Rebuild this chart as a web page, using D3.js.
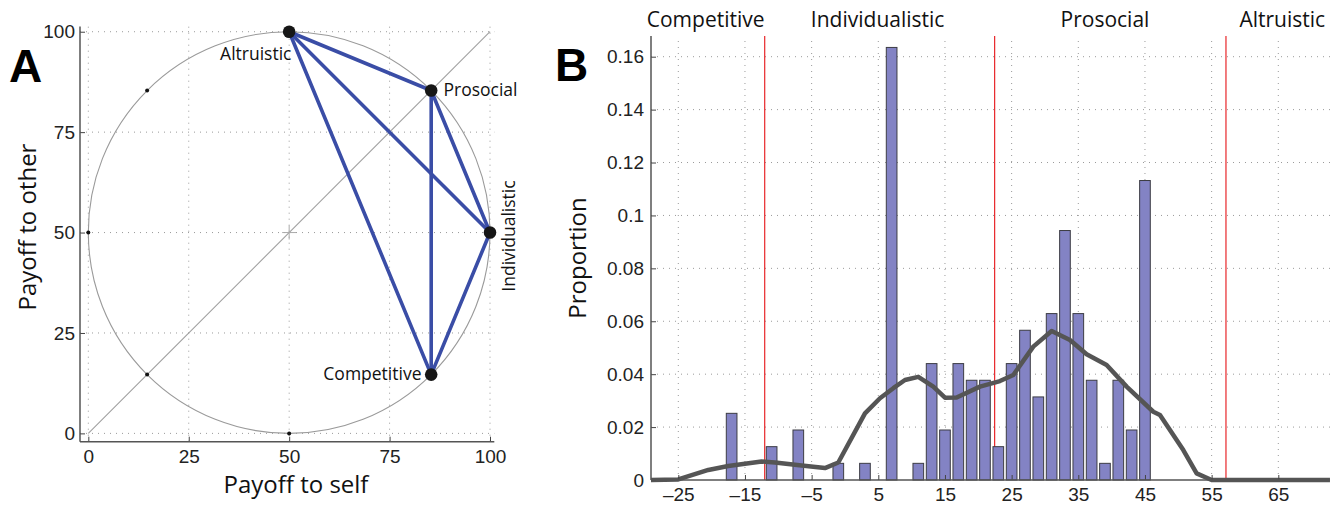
<!DOCTYPE html>
<html><head><meta charset="utf-8">
<script src="https://cdn.jsdelivr.net/npm/d3@7"></script>
<style>
html,body{margin:0;padding:0;background:#fff;}
svg{display:block;}
.lbl{font-family:"Open Sans",sans-serif;fill:#111;}
</style></head>
<body>
<svg id="c" width="1330" height="506"></svg>
<script>
// ---------- Panel A data ----------
const styleNames = ["Altruistic", "Prosocial", "Individualistic", "Competitive"];
const selfPayoff = [50, 85.36, 100, 85.36];
const otherPayoff = [100, 85.36, 50, 14.64];
const smallDotSelf = [0, 50, 14.64, 14.64];
const smallDotOther = [50, 0, 14.64, 85.36];
const ticksA = [0, 25, 50, 75, 100];

// ---------- Panel B data ----------
const binCenters = [-17, -11, -7, -1, 3, 7, 11, 13, 15, 17, 19, 21, 23, 25, 27, 29, 31, 33, 35, 37, 39, 41, 43, 45];
const proportions = [0.0252, 0.0126, 0.0189, 0.0063, 0.0063, 0.1635, 0.0063, 0.0440, 0.0189, 0.0440, 0.0377, 0.0377, 0.0126, 0.0440, 0.0566, 0.0314, 0.0629, 0.0943, 0.0629, 0.0377, 0.0063, 0.0377, 0.0189, 0.1132];
const densityX = [-29.1, -25, -20.5, -17.5, -12.5, -10.5, -6.5, -3, -1, 3, 5.25, 7.25, 9, 11, 13.25, 15, 16.75, 20.25, 23.25, 25.25, 28.25, 31, 33.75, 36.25, 39.25, 42.25, 46.25, 47.25, 50.75, 52.75, 55, 72.75];
const densityY = [0, 0.0002, 0.0038, 0.0053, 0.0070, 0.0066, 0.0055, 0.0045, 0.0066, 0.0252, 0.0309, 0.0347, 0.0378, 0.0390, 0.0353, 0.0311, 0.0312, 0.0353, 0.0374, 0.0397, 0.0504, 0.0563, 0.0529, 0.0475, 0.0435, 0.0353, 0.0258, 0.0246, 0.0113, 0.0025, 0, 0];
const boundaries = [-12.04, 22.45, 57.15];
const categoryNames = ["Competitive", "Individualistic", "Prosocial", "Altruistic"];
const categoryPos = [-20.9, 4.9, 39.0, 65.6];
const ticksBx = [-25, -15, -5, 5, 15, 25, 35, 45, 55, 65];
const ticksBy = [0, 0.02, 0.04, 0.06, 0.08, 0.1, 0.12, 0.14, 0.16];

const svg = d3.select("#c");
const TICKFONT = "'Liberation Sans', Arial, sans-serif";

function styleAxis(a) {
  a.attr("font-size", null).attr("font-family", null);
  a.select(".domain").remove();
  a.selectAll(".tick line").attr("stroke", "#444");
  a.selectAll(".tick text").style("font-family", TICKFONT).style("font-size", "19px").style("fill", "#222");
}

// ================= Panel A =================
const xA = d3.scaleLinear().domain([-2.07, 101.07]).range([80, 494.3]);
const yA = d3.scaleLinear().domain([-2.07, 101.3]).range([441.7, 26.5]);
const gA = svg.append("g");

gA.selectAll(".gvx").data(ticksA).join("line")
  .attr("x1", d => xA(d)).attr("x2", d => xA(d)).attr("y1", yA.range()[0]).attr("y2", yA.range()[1])
  .attr("stroke", "#9a9a9a").attr("stroke-width", 1).attr("stroke-dasharray", "1,5");
gA.selectAll(".gvy").data(ticksA).join("line")
  .attr("y1", d => yA(d)).attr("y2", d => yA(d)).attr("x1", xA.range()[0]).attr("x2", xA.range()[1])
  .attr("stroke", "#9a9a9a").attr("stroke-width", 1).attr("stroke-dasharray", "1,5");

gA.append("circle").attr("cx", xA(50)).attr("cy", yA(50)).attr("r", xA(100) - xA(50))
  .attr("fill", "none").attr("stroke", "#9a9a9a").attr("stroke-width", 1.1);
gA.append("line").attr("x1", xA(0)).attr("y1", yA(0)).attr("x2", xA(100)).attr("y2", yA(100))
  .attr("stroke", "#a0a0a0").attr("stroke-width", 1.1);
gA.append("line").attr("x1", xA(50) - 7).attr("x2", xA(50) + 7).attr("y1", yA(50)).attr("y2", yA(50)).attr("stroke", "#aaa");
gA.append("line").attr("y1", yA(50) - 7).attr("y2", yA(50) + 7).attr("x1", xA(50)).attr("x2", xA(50)).attr("stroke", "#aaa");

const pairs = [];
for (let i = 0; i < styleNames.length; i++) for (let j = i + 1; j < styleNames.length; j++) pairs.push([i, j]);
gA.selectAll(".edge").data(pairs).join("line")
  .attr("x1", d => xA(selfPayoff[d[0]])).attr("y1", d => yA(otherPayoff[d[0]]))
  .attr("x2", d => xA(selfPayoff[d[1]])).attr("y2", d => yA(otherPayoff[d[1]]))
  .attr("stroke", "#3a4da6").attr("stroke-width", 3.6).attr("stroke-linecap", "round");

gA.selectAll(".sd").data(smallDotSelf).join("circle")
  .attr("cx", d => xA(d)).attr("cy", (d, i) => yA(smallDotOther[i])).attr("r", 2).attr("fill", "#111");
gA.selectAll(".bd").data(selfPayoff).join("circle")
  .attr("cx", d => xA(d)).attr("cy", (d, i) => yA(otherPayoff[i])).attr("r", 6.3).attr("fill", "#161616");

const axAx = gA.append("g").attr("transform", `translate(0,${yA.range()[0]})`)
  .call(d3.axisBottom(xA).tickValues(ticksA).tickSizeInner(-5).tickSizeOuter(0).tickPadding(8).tickFormat(d3.format("d")));
const axAy = gA.append("g").attr("transform", `translate(${xA.range()[0]},0)`)
  .call(d3.axisLeft(yA).tickValues(ticksA).tickSizeInner(-5).tickSizeOuter(0).tickPadding(5).tickFormat(d3.format("d")));
styleAxis(axAx); styleAxis(axAy);
gA.append("line").attr("x1", 80).attr("x2", 494.3).attr("y1", 441.7).attr("y2", 441.7).attr("stroke", "#555").attr("stroke-width", 1.5);
gA.append("line").attr("x1", 80).attr("x2", 80).attr("y1", 26.5).attr("y2", 441.7).attr("stroke", "#555").attr("stroke-width", 1.5);

gA.append("text").attr("class", "lbl").attr("x", 291.5).attr("y", 60).attr("text-anchor", "end").attr("font-size", 17.5).text(styleNames[0]);
gA.append("text").attr("class", "lbl").attr("x", 443.5).attr("y", 96).attr("font-size", 17.5).text(styleNames[1]);
gA.append("text").attr("class", "lbl").attr("transform", "translate(515,236) rotate(-90)").attr("text-anchor", "middle").attr("font-size", 17.5).text(styleNames[2]);
gA.append("text").attr("class", "lbl").attr("x", 421.5).attr("y", 380).attr("text-anchor", "end").attr("font-size", 17.5).text(styleNames[3]);
gA.append("text").attr("class", "lbl").attr("x", 296).attr("y", 493).attr("text-anchor", "middle").attr("font-size", 24).text("Payoff to self");
gA.append("text").attr("class", "lbl").attr("transform", "translate(36,227) rotate(-90)").attr("text-anchor", "middle").attr("font-size", 24).text("Payoff to other");
svg.append("text").attr("x", 9).attr("y", 82).style("font-family", TICKFONT).attr("font-weight", "bold").attr("font-size", 46).attr("fill", "#000").text("A");

// ================= Panel B =================
const xB = d3.scaleLinear().domain([-25, 65]).range([678.3, 1278.3]);
const yB = d3.scaleLinear().domain([0, 0.16]).range([480, 56.7]);
const bL = 651, bR = 1330, bT = 36, bB = 480;
const gB = svg.append("g");

gB.selectAll(".gx").data(ticksBx).join("line")
  .attr("x1", d => xB(d)).attr("x2", d => xB(d)).attr("y1", bB).attr("y2", bT)
  .attr("stroke", "#9a9a9a").attr("stroke-width", 1).attr("stroke-dasharray", "1,5");
gB.selectAll(".gy").data(ticksBy.slice(1)).join("line")
  .attr("y1", d => yB(d)).attr("y2", d => yB(d)).attr("x1", bL).attr("x2", bR)
  .attr("stroke", "#9a9a9a").attr("stroke-width", 1).attr("stroke-dasharray", "1,5");

gB.selectAll(".rb").data(boundaries).join("line")
  .attr("x1", d => xB(d)).attr("x2", d => xB(d)).attr("y1", bB).attr("y2", bT)
  .attr("stroke", "#e8262a").attr("stroke-width", 1.2);

const binW = 1.6;
gB.selectAll(".bar").data(binCenters).join("rect")
  .attr("x", d => xB(d - binW / 2)).attr("width", xB(binW) - xB(0))
  .attr("y", (d, i) => yB(proportions[i])).attr("height", (d, i) => yB(0) - yB(proportions[i]))
  .attr("fill", "#8383c4").attr("stroke", "#3c3c44").attr("stroke-width", 1);

const line = d3.line().x(d => xB(d[0])).y(d => yB(d[1]));
gB.append("path").datum(densityX.map((x, i) => [x, densityY[i]]))
  .attr("d", line).attr("fill", "none").attr("stroke", "#555555").attr("stroke-width", 4.5).attr("stroke-linejoin", "round");

const axBx = gB.append("g").attr("transform", `translate(0,${bB})`)
  .call(d3.axisBottom(xB).tickValues(ticksBx).tickSizeInner(-5).tickSizeOuter(0).tickPadding(8).tickFormat(d => d < 0 ? "\u2013" + Math.abs(d) : String(d)));
const axBy = gB.append("g").attr("transform", `translate(${bL},0)`)
  .call(d3.axisLeft(yB).tickValues(ticksBy).tickSizeInner(-5).tickSizeOuter(0).tickPadding(7).tickFormat(d => String(+d.toFixed(2))));
styleAxis(axBx); styleAxis(axBy);
gB.append("line").attr("x1", bL).attr("x2", bR).attr("y1", bB).attr("y2", bB).attr("stroke", "#555").attr("stroke-width", 1.5);
gB.append("line").attr("x1", bL).attr("x2", bL).attr("y1", bT).attr("y2", bB).attr("stroke", "#555").attr("stroke-width", 1.5);

gB.selectAll(".cat").data(categoryNames).join("text").attr("class", "lbl")
  .attr("x", (d, i) => xB(categoryPos[i])).attr("y", 27).attr("text-anchor", "middle").attr("font-size", 21).text(d => d);
gB.append("text").attr("class", "lbl").attr("transform", "translate(586,258) rotate(-90)").attr("text-anchor", "middle").attr("font-size", 24).text("Proportion");
svg.append("text").attr("x", 555).attr("y", 81).style("font-family", TICKFONT).attr("font-weight", "bold").attr("font-size", 46).attr("fill", "#000").text("B");
</script>
</body></html>
